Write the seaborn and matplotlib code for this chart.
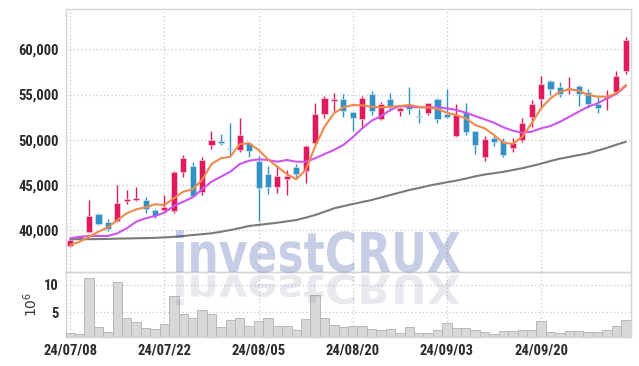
import matplotlib
matplotlib.use("Agg")
import matplotlib.pyplot as plt
import seaborn as sns
from matplotlib import font_manager
from matplotlib.ticker import FuncFormatter
from matplotlib.textpath import TextPath
from matplotlib.patches import PathPatch
from matplotlib.font_manager import FontProperties
from matplotlib.transforms import Affine2D, IdentityTransform

# daily candles, 24/07/08 .. 24/10/07 (trading days only)
opens = [38200, 39100, 39750, 41800, 40900, 41000, 43250, 43350, 43300, 42200,
         42200, 42150, 46450, 47100, 44250, 49450, 49850, 49100, 48850, 49600,
         47650, 46200, 44750, 45650, 47000, 46550, 49650, 52800, 54300, 54450,
         53050, 52250, 55050, 52250, 54500, 53200, 53950, 52600, 53000, 54500,
         52900, 50450, 53050, 50950, 48050, 50150, 49900, 49050, 50000, 52500,
         54450, 56550, 55800, 55600, 55950, 55300, 53950, 54600, 55300, 57650]
highs = [39050, 39400, 43300, 41950, 41200, 45000, 44450, 44750, 43700, 42300,
         43900, 46550, 48300, 47550, 48100, 50950, 50600, 51800, 52350, 49800,
         48200, 47100, 47100, 46650, 47300, 49400, 54050, 54850, 55150, 55050,
         53100, 54850, 55350, 54150, 55150, 53650, 55800, 53350, 54100, 54650,
         55600, 53900, 54050, 51000, 50450, 50400, 50150, 50150, 52350, 54400,
         57050, 56600, 56400, 56900, 56050, 55600, 54700, 55500, 57650, 61400]
lows = [38100, 38850, 39700, 40550, 39900, 40900, 42900, 43250, 41850, 41300,
        42050, 41850, 45900, 43650, 43900, 48950, 49400, 48300, 48650, 48100,
        41000, 44000, 44150, 43850, 45900, 45250, 49600, 52350, 53200, 52550,
        51000, 51400, 52750, 52200, 53200, 52600, 52900, 51900, 52750, 51800,
        52350, 50350, 50500, 48400, 47650, 49350, 48100, 48650, 49800, 51450,
        53500, 54950, 54700, 55050, 53750, 53500, 53000, 53300, 55050, 57300]
closes = [38950, 39350, 41550, 40700, 40100, 42950, 43450, 43550, 42300, 41550,
          42550, 46400, 47950, 43800, 47750, 49950, 49600, 48950, 50500, 48700,
          44700, 44750, 46000, 46000, 46250, 49300, 52850, 54600, 54450, 53200,
          52350, 54600, 53200, 53950, 53650, 53500, 53450, 52550, 54050, 52250,
          52550, 52750, 50800, 49450, 50050, 49700, 48300, 49650, 51850, 53950,
          56150, 55600, 55050, 55700, 55050, 53950, 53550, 54750, 57050, 61000]
# volume in millions of shares
volumes = [1.15, 0.97, 11.3, 2.25, 1.4, 10.5, 3.9, 3.17, 2.1, 1.88,
           2.86, 7.98, 4.63, 3.9, 5.36, 4.63, 2.25, 3.53, 3.9, 2.43,
           3.35, 3.9, 2.43, 2.43, 1.7, 3.7, 8.17, 3.9, 2.67, 2.25,
           2.49, 2.49, 1.88, 1.64, 1.94, 1.21, 2.25, 1.21, 1.21, 1.64,
           2.98, 2.07, 2.07, 1.64, 1.34, 0.97, 1.52, 1.52, 1.76, 1.76,
           3.4, 1.4, 1.15, 1.58, 1.58, 1.4, 1.4, 1.76, 2.49, 3.6]
# moving averages as drawn on the chart
ma5 = [38360, 38720, 39270, 39830, 40310, 41120, 41860, 42300, 42530, 42860,
       42780, 43520, 44250, 44520, 45550, 47310, 47950, 48120, 49530, 49600,
       48860, 47830, 47010, 46210, 45620, 46650, 49230, 51440, 52920, 53580,
       53840, 53800, 53650, 53580, 53650, 53730, 53840, 53650, 53580, 53400,
       52990, 52730, 52370, 51630, 51260, 50520, 49670, 49530, 50330, 51810,
       53470, 54580, 55310, 55580, 55420, 54950, 54760, 54760, 55130, 56050]
ma20 = [39100, 39270, 39350, 39350, 39350, 39650, 40200, 40930, 41310, 41560,
        41930, 42670, 43140, 43630, 44520, 45360, 45910, 46460, 47310, 47680,
        47830, 47760, 47570, 47760, 47570, 47570, 47940, 48420, 48860, 49420,
        50270, 51260, 52100, 52620, 53290, 53730, 53650, 53580, 53580, 53580,
        53470, 53290, 52990, 52620, 52260, 51880, 51370, 51000, 50780, 50890,
        51260, 51520, 51990, 52540, 53100, 53650, 54030, 54580, 55060, 55940]
ma120 = [38990, 39000, 39000, 39010, 39030, 39060, 39080, 39100, 39120, 39150,
         39200, 39260, 39350, 39460, 39550, 39650, 39820, 40010, 40220, 40460,
         40580, 40700, 40820, 40970, 41120, 41380, 41670, 42030, 42410, 42650,
         42890, 43110, 43330, 43610, 43890, 44160, 44440, 44650, 44900, 45100,
         45300, 45480, 45700, 45950, 46150, 46300, 46450, 46650, 46850, 47100,
         47350, 47650, 47900, 48100, 48300, 48500, 48800, 49100, 49450, 49780]
tick_labels = ["24/07/08", "24/07/22", "24/08/05", "24/08/20", "24/09/03", "24/09/20"]
price_ticks = [40000, 45000, 50000, 55000, 60000]
vol_ticks = [5, 10]

UP = "#e3195f"
DOWN = "#2f93c6"
GRID = "#c9c9dd"
FRAME = "#d4d4d4"

# pick a narrow font for the tick labels if one is there
installed = {f.name for f in font_manager.fontManager.ttflist}
narrow = None
for name in ["Liberation Sans Narrow", "DejaVu Sans Condensed", "Roboto Condensed",
             "Open Sans Condensed"]:
    if name in installed:
        narrow = name
        break
tick_font = dict(family=narrow or "Roboto", weight="bold",
                 size=10.5 if narrow else 9.5)
if narrow is None:
    narrow_stretch = "normal"

sns.set_theme(style="white")
plt.rcParams["font.family"] = ["DejaVu Sans"]

fig = plt.figure(figsize=(6.39, 3.66), dpi=100)
W, H = 639, 366
ax = fig.add_axes([66 / W, 1 - 272 / H, 565 / W, 263 / H])
ax_vol = fig.add_axes([66 / W, 1 - 337 / H, 565 / W, 65 / H])

idx = list(range(len(closes)))

# candles
for i in idx:
    o, h, l, c = opens[i], highs[i], lows[i], closes[i]
    col = UP if c >= o else DOWN
    ax.vlines(i, l, h, color=col, lw=1.0, zorder=3)
    body = max(abs(c - o), 70)
    ax.bar(i, body, bottom=min(o, c), width=0.64, color=col,
           edgecolor="#ece6ee", linewidth=0.4, zorder=4)

sns.lineplot(x=idx, y=ma120, ax=ax, color="#7a7a7a", lw=1.5, zorder=5)
sns.lineplot(x=idx, y=ma20, ax=ax, color="#cc55ee", lw=1.5, zorder=6)
sns.lineplot(x=idx, y=ma5, ax=ax, color="#ef8a4c", lw=1.5, zorder=7)

ax.set_xlim(-0.45, 59.55)
ax.set_ylim(35370, 64460)
ax.set_yticks(price_ticks)
ax.yaxis.set_major_formatter(FuncFormatter(lambda v, p: f"{int(v):,}"))
ax.set_xticks(range(0, 60, 10))
ax.set_xticklabels([])

# volume
sns.barplot(x=idx, y=volumes, ax=ax_vol, color="#d8d8d8", edgecolor="#b8b8b8",
            linewidth=0.7, width=1.0, saturation=1, zorder=3)
ax_vol.set_xlim(-0.45, 59.55)
ax_vol.set_ylim(0.4, 12.4)
ax_vol.set_yticks(vol_ticks)
ax_vol.set_xticks(range(0, 60, 10))
ax_vol.set_xticklabels(tick_labels)
ax_vol.set_xlabel("")
ax_vol.set_ylabel(r"$10^6$", fontsize=10, color="#333333", labelpad=3)

for a in (ax, ax_vol):
    a.set_facecolor("none")
    a.grid(True, color=GRID, linestyle=(0, (1, 2)), lw=0.9)
    a.set_axisbelow(True)
    for s in a.spines.values():
        s.set_color(FRAME)
        s.set_linewidth(1.0)
    a.tick_params(length=0, pad=5, labelcolor="#2b2b2b")
    for t in a.get_xticklabels() + a.get_yticklabels():
        t.set_fontfamily(tick_font["family"])
        t.set_fontweight(tick_font["weight"])
        t.set_fontsize(tick_font["size"])

# watermark with reflection
fp = FontProperties(family="DejaVu Sans", weight="bold")
tp = TextPath((0, 0), "investCRUX", size=100, prop=fp)
cap = TextPath((0, 0), "X", size=100, prop=fp).get_extents().height
bb = tp.get_extents()
sx = 284 / bb.width
sy = 40 / cap
base_y = H - 272
mark = Affine2D().translate(-bb.x0, 0).scale(sx, sy).translate(176, base_y)
refl = Affine2D().translate(-bb.x0, 0).scale(sx, -sy * 0.72).translate(176, base_y - 3)
fig.add_artist(PathPatch(mark.transform_path(tp), transform=IdentityTransform(),
                         facecolor="#172f8f", edgecolor="none", alpha=0.24, zorder=10))
fig.add_artist(PathPatch(refl.transform_path(tp), transform=IdentityTransform(),
                         facecolor="#50508a", edgecolor="none", alpha=0.13, zorder=10))

fig.savefig("out.png", dpi=100)
